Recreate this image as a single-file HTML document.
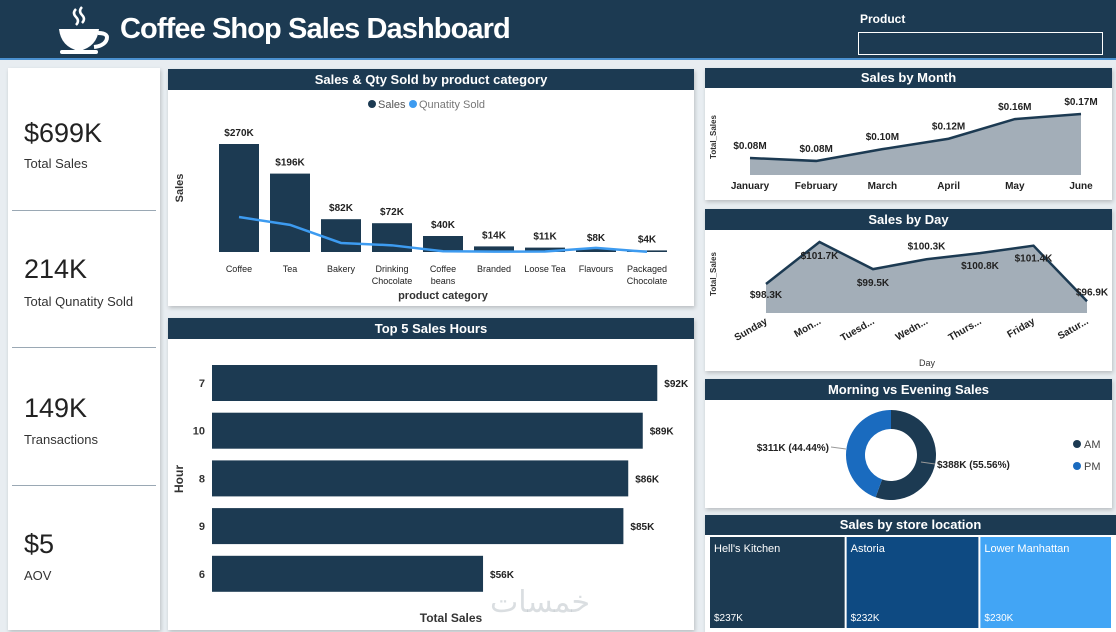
<!DOCTYPE html>
<html><head><meta charset="utf-8"><style>
*{box-sizing:border-box;margin:0;padding:0}
body{width:1116px;height:632px;background:#e8edf1;font-family:"Liberation Sans","DejaVu Sans",sans-serif;position:relative;overflow:hidden}
.abs{position:absolute}
.panel{position:absolute;background:#fff;box-shadow:1px 2px 4px rgba(0,0,0,.2)}
.ph{position:absolute;left:0;right:0;top:0;height:21px;background:#1c3a52;color:#fff;font-weight:bold;font-size:13px;text-align:center;line-height:21px}
svg text{font-family:"Liberation Sans",sans-serif}
</style></head><body>
<div class="abs" style="left:0;top:0;width:1116px;height:60px;background:#1c3a52;border-bottom:2px solid #4a90d0"></div>
<svg class="abs" style="left:56px;top:5px" width="58" height="52" viewBox="0 0 58 52">
<path d="M20 4 q-4 4 0 8 q4 4 0 8" stroke="#fff" stroke-width="2.5" fill="none"/>
<path d="M26 2 q-4 4 0 8 q4 4 0 8" stroke="#fff" stroke-width="2.5" fill="none"/>
<path d="M3 24 h40 q-2 18 -20 22 q-18 -4 -20 -22z" fill="#fff"/>
<path d="M42 28 q12 0 8 8 q-3 5 -12 6" stroke="#fff" stroke-width="4" fill="none"/>
<rect x="4" y="45" width="38" height="4" rx="2" fill="#fff"/></svg>
<div class="abs" style="left:120px;top:13px;color:#fff;font-size:29px;font-weight:bold;letter-spacing:-0.9px">Coffee Shop Sales Dashboard</div>
<div class="abs" style="left:860px;top:12px;color:#fff;font-size:12px;font-weight:bold">Product</div>
<div class="abs" style="left:858px;top:32px;width:245px;height:23px;border:1px solid #fff"></div>

<div class="panel" style="left:8px;top:68px;width:152px;height:562px">
<div class="abs" style="left:16px;top:50px;font-size:27px;color:#222">$699K</div>
<div class="abs" style="left:16px;top:88px;font-size:13px;color:#333">Total Sales</div>
<div class="abs" style="left:4px;top:142px;width:144px;height:1px;background:#9aa8b4"></div>
<div class="abs" style="left:16px;top:186px;font-size:27px;color:#222">214K</div>
<div class="abs" style="left:16px;top:226px;font-size:13px;color:#333">Total Qunatity Sold</div>
<div class="abs" style="left:4px;top:279px;width:144px;height:1px;background:#9aa8b4"></div>
<div class="abs" style="left:16px;top:325px;font-size:27px;color:#222">149K</div>
<div class="abs" style="left:16px;top:364px;font-size:13px;color:#333">Transactions</div>
<div class="abs" style="left:4px;top:417px;width:144px;height:1px;background:#9aa8b4"></div>
<div class="abs" style="left:16px;top:461px;font-size:27px;color:#222">$5</div>
<div class="abs" style="left:16px;top:500px;font-size:13px;color:#333">AOV</div>
</div>

<div class="panel" style="left:168px;top:69px;width:526px;height:237px"><div class="ph">Sales &amp; Qty Sold by product category</div></div>
<div class="panel" style="left:168px;top:318px;width:526px;height:312px"><div class="ph">Top 5 Sales Hours</div></div>
<div class="panel" style="left:705px;top:68px;width:407px;height:132px"><div class="ph" style="height:20px;line-height:20px">Sales by Month</div></div>
<div class="panel" style="left:705px;top:209px;width:407px;height:162px"><div class="ph">Sales by Day</div></div>
<div class="panel" style="left:705px;top:379px;width:407px;height:129px"><div class="ph">Morning vs Evening Sales</div></div>
<div class="panel" style="left:705px;top:515px;width:411px;height:117px"><div class="ph" style="height:20px;line-height:20px">Sales by store location</div></div>

<svg id="ch" class="abs" style="left:0;top:0" width="1116" height="632"></svg>
<div class="abs" style="left:490px;top:585px;font-size:30px;color:rgba(150,160,170,.35);font-family:'DejaVu Sans',sans-serif">خمسات</div>
<script>
const catNames=["Coffee","Tea","Bakery","Drinking|Chocolate","Coffee|beans","Branded","Loose Tea","Flavours","Packaged|Chocolate"];
const catSales=[270,196,82,72,40,14,11,8,4];
const catQty=[89,69,23,17,1.8,0.8,1.2,10.5,0.5];
const hours=["7","10","8","9","6"];
const hourSales=[92,89,86,85,56];
const months=["January","February","March","April","May","June"];
const monthSales=[0.0817,0.0761,0.0988,0.1189,0.1567,0.1665];
const days=["Sunday","Mon...","Tuesd...","Wedn...","Thurs...","Friday","Satur..."];
const daySales=[98.3,101.7,99.5,100.3,100.8,101.4,96.9];
const ampmLabels=["AM","PM"];
const ampmSales=[388.4,310.7];
const stores=["Hell's Kitchen","Astoria","Lower Manhattan"];
const storeSales=[237,232,230];

const svg=document.getElementById('ch');
const NS='http://www.w3.org/2000/svg';
function el(t,a,txt){const e=document.createElementNS(NS,t);for(const k in a)e.setAttribute(k,a[k]);if(txt!==undefined)e.textContent=txt;svg.appendChild(e);return e;}
const navy='#1c3a52';
// category chart
const cx=i=>239+i*51, cBase=252, cy=v=>cBase-v*0.4, qy=v=>cBase-v*0.393;
let e=el('circle',{cx:372,cy:104,r:4,fill:navy});

e=el('text',{x:378,y:108,'font-size':11,fill:'#555'},'Sales');

e=el('circle',{cx:413,cy:104,r:4,fill:'#3d9bf0'});

e=el('text',{x:419,y:108,'font-size':11,fill:'#777'},'Qunatity Sold');

e=el('text',{x:183,y:188,'font-size':11,'font-weight':'bold',fill:'#333',transform:'rotate(-90 183 188)','text-anchor':'middle'},'Sales');

e=el('text',{x:443,y:299,'font-size':11,'font-weight':'bold',fill:'#333','text-anchor':'middle'},'product category');

catSales.forEach((v,i)=>{
 let b=el('rect',{x:cx(i)-20,y:cy(v),width:40,height:cBase-cy(v),fill:navy});
 
 
 let t=el('text',{x:cx(i),y:cy(v)-8,'font-size':10,'font-weight':'bold',fill:'#222','text-anchor':'middle'},'$'+v+'K');
 
 catNames[i].split('|').forEach((s,j)=>{let l=el('text',{x:cx(i),y:272+j*12,'font-size':9,fill:'#222','text-anchor':'middle'},s);
 });
});
e=el('polyline',{points:catQty.map((v,i)=>cx(i)+','+qy(v)).join(' '),fill:'none',stroke:'#3d9bf0','stroke-width':2.5});

// hours chart
const hy=i=>365+i*47.7, hx=v=>v*4.84;
hours.forEach((h,i)=>{
 let b=el('rect',{x:212,y:hy(i),width:hx(hourSales[i]),height:36,fill:navy});
 
 let t=el('text',{x:205,y:hy(i)+22,'font-size':11,'font-weight':'bold',fill:'#333','text-anchor':'end'},h);
 
 t=el('text',{x:212+hx(hourSales[i])+7,y:hy(i)+22,'font-size':10,'font-weight':'bold',fill:'#222'},'$'+hourSales[i]+'K');
 
});
e=el('text',{x:183,y:479,'font-size':12,'font-weight':'bold',fill:'#333',transform:'rotate(-90 183 479)','text-anchor':'middle'},'Hour');

e=el('text',{x:451,y:622,'font-size':12,'font-weight':'bold',fill:'#333','text-anchor':'middle'},'Total Sales');

// month chart
const mx=i=>750+i*66.2, mBase=175, my=v=>mBase-(v-0.049)*519;
e=el('path',{d:'M'+mx(0)+','+mBase+' '+monthSales.map((v,i)=>'L'+mx(i)+','+my(v)).join(' ')+' L'+mx(5)+','+mBase+'Z',fill:'#a3aeb8'});

e=el('polyline',{points:monthSales.map((v,i)=>mx(i)+','+my(v)).join(' '),fill:'none',stroke:navy,'stroke-width':2.5});

monthSales.forEach((v,i)=>{
 let t=el('text',{x:mx(i),y:my(v)-9,'font-size':10,'font-weight':'bold',fill:'#222','text-anchor':'middle'},'$'+v.toFixed(2)+'M');
 
 t=el('text',{x:mx(i),y:189,'font-size':10,'font-weight':'bold',fill:'#222','text-anchor':'middle'},months[i]);
 
});
e=el('text',{x:716,y:137,'font-size':8,'font-weight':'bold',fill:'#333',transform:'rotate(-90 716 137)','text-anchor':'middle'},'Total_Sales');

// day chart
const dx=i=>766+i*53.5, dBase=313, dy=v=>dBase-(v-95.95)*12.35;
e=el('path',{d:'M'+dx(0)+','+dBase+' '+daySales.map((v,i)=>'L'+dx(i)+','+dy(v)).join(' ')+' L'+dx(6)+','+dBase+'Z',fill:'#a3aeb8'});

e=el('polyline',{points:daySales.map((v,i)=>dx(i)+','+dy(v)).join(' '),fill:'none',stroke:navy,'stroke-width':2.5});

const dOff=[14,17,17,-10,16,16,-6];
daySales.forEach((v,i)=>{
 let t=el('text',{x:dx(i)+(i==6?5:0),y:dy(v)+dOff[i],'font-size':10,'font-weight':'bold',fill:'#222','text-anchor':'middle'},'$'+v.toFixed(1)+'K');
 
 t=el('text',{x:dx(i)+2,y:323,'font-size':10,'font-weight':'bold',fill:'#222','text-anchor':'end',transform:'rotate(-30 '+(dx(i)+2)+' 323)'},days[i]);
 
});
e=el('text',{x:716,y:274,'font-size':8,'font-weight':'bold',fill:'#333',transform:'rotate(-90 716 274)','text-anchor':'middle'},'Total_Sales');

e=el('text',{x:927,y:366,'font-size':9,fill:'#333','text-anchor':'middle'},'Day');

// donut
const tot=ampmSales.reduce((a,b)=>a+b,0), ocx=891, ocy=455, R=45, r=26;
let ang=0;const cols=[navy,'#1a6bbf'];
ampmSales.forEach((v,i)=>{
 const a0=ang, a1=ang+v/tot*2*Math.PI; ang=a1;
 const p=(a,rr)=>[ocx+rr*Math.sin(a),ocy-rr*Math.cos(a)];
 const lg=(a1-a0)>Math.PI?1:0;
 const [x0,y0]=p(a0,R),[x1,y1]=p(a1,R),[x2,y2]=p(a1,r),[x3,y3]=p(a0,r);
 let s=el('path',{d:`M${x0},${y0} A${R},${R} 0 ${lg} 1 ${x1},${y1} L${x2},${y2} A${r},${r} 0 ${lg} 0 ${x3},${y3}Z`,fill:cols[i]});
 
});
e=el('text',{x:829,y:451,'font-size':10,'font-weight':'bold',fill:'#222','text-anchor':'end'},'$'+Math.round(ampmSales[1])+'K ('+(ampmSales[1]/tot*100).toFixed(2)+'%)');

e=el('text',{x:937,y:468,'font-size':10,'font-weight':'bold',fill:'#222'},'$'+Math.round(ampmSales[0])+'K ('+(ampmSales[0]/tot*100).toFixed(2)+'%)');

el('line',{x1:831,y1:447,x2:846,y2:449,stroke:'#999'});el('line',{x1:935,y1:464,x2:921,y2:462,stroke:'#999'});
ampmLabels.forEach((l,i)=>{
 let c=el('circle',{cx:1077,cy:444+i*22,r:4,fill:cols[i]});
 
 let t=el('text',{x:1084,y:448+i*22,'font-size':11,fill:'#444'},l);
 
});
// treemap
const sTot=storeSales.reduce((a,b)=>a+b,0), sCols=[navy,'#0e4a82','#42a5f5'];
let sx=710;const sW=403;
storeSales.forEach((v,i)=>{
 const w=v/sTot*sW;
 let b=el('rect',{x:sx,y:537,width:w-2,height:91,fill:sCols[i]});
 
 let t=el('text',{x:sx+4,y:552,'font-size':11,fill:'#fff'},stores[i]);
 
 t=el('text',{x:sx+4,y:621,'font-size':10,fill:'#fff'},'$'+v+'K');
 
 sx+=w;
});
</script>
</body></html>
